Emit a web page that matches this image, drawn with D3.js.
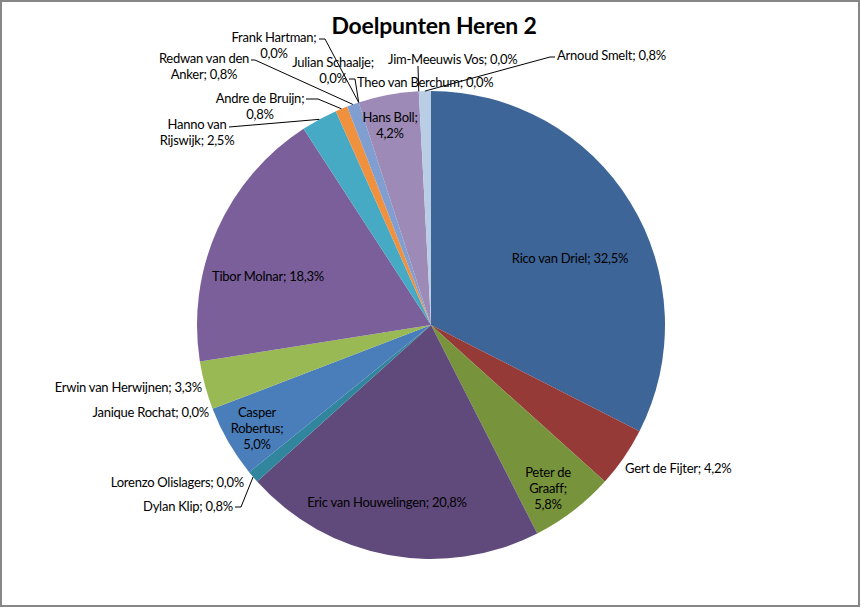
<!DOCTYPE html>
<html>
<head>
<meta charset="utf-8">
<title>Doelpunten Heren 2</title>
<script src="https://cdn.jsdelivr.net/npm/d3@7"></script>
<style>
	body { margin: 0; background: #fff; }
	#chart-container text { font-family: Lato, "Open Sans", sans-serif; fill: #000; }
</style>
</head>
<body>
<div id="chart-container"></div>
<script>
// goals per player, in the order Excel draws them (clockwise from 12 o'clock)
let players = ["Rico van Driel", "Gert de Fijter", "Peter de Graaff", "Eric van Houwelingen",
	"Dylan Klip", "Lorenzo Olislagers", "Casper Robertus", "Janique Rochat",
	"Erwin van Herwijnen", "Tibor Molnar", "Hanno van Rijswijk", "Andre de Bruijn",
	"Redwan van den Anker", "Frank Hartman", "Julian Schaalje", "Hans Boll",
	"Theo van Berchum", "Jim-Meeuwis Vos", "Arnoud Smelt"];
let goals = [39, 5, 7, 25, 1, 0, 6, 0, 4, 22, 3, 1, 1, 0, 0, 5, 0, 0, 1];
let sliceColors = ["#3d6597", "#963a37", "#77933c", "#604a7b", "#31859c", "#e46c0a",
	"#4a7ebb", "#be4b48", "#98b954", "#7a5f9a", "#46aac5", "#f0913f",
	"#809fd0", "#d48a89", "#b3cb85", "#9d8ab6", "#7fc6d9", "#f9b885", "#b9cde5"];

// where Excel put each data label: x/y of first line, anchor, words per line, leader points
let labelLayout = {
	"Rico van Driel":       { x: 570, y: 258, anchor: "middle" },
	"Gert de Fijter":       { x: 625, y: 468, anchor: "start" },
	"Peter de Graaff":      { x: 548, y: 472, anchor: "middle", breaks: [2, 1, 1] },
	"Eric van Houwelingen": { x: 387, y: 502, anchor: "middle" },
	"Dylan Klip":           { x: 233, y: 506, anchor: "end", leader: [[235, 507], [241, 507]] },
	"Lorenzo Olislagers":   { x: 244, y: 482, anchor: "end" },
	"Casper Robertus":      { x: 257, y: 412, anchor: "middle", breaks: [1, 1, 1] },
	"Janique Rochat":       { x: 209, y: 412, anchor: "end" },
	"Erwin van Herwijnen":  { x: 202, y: 387, anchor: "end" },
	"Tibor Molnar":         { x: 268, y: 276, anchor: "middle" },
	"Hanno van Rijswijk":   { x: 197, y: 124, anchor: "middle", breaks: [2, 2], leader: [[229, 127]] },
	"Andre de Bruijn":      { x: 260, y: 98, anchor: "middle", breaks: [3, 1], leader: [[306, 99], [318, 99]] },
	"Redwan van den Anker": { x: 204, y: 58, anchor: "middle", breaks: [3, 2], leader: [[251, 60], [255, 60]] },
	"Frank Hartman":        { x: 274, y: 37, anchor: "middle", breaks: [2, 1], leader: [[319, 39], [325, 39]] },
	"Julian Schaalje":      { x: 333, y: 62, anchor: "middle", breaks: [2, 1], leader: [[349, 79], [355, 79]] },
	"Hans Boll":            { x: 390, y: 117, anchor: "middle", breaks: [2, 1] },
	"Theo van Berchum":     { x: 357, y: 82, anchor: "start" },
	"Jim-Meeuwis Vos":      { x: 388, y: 59, anchor: "start", leader: [[418, 66]] },
	"Arnoud Smelt":         { x: 557, y: 55, anchor: "start", leader: [[555, 57], [550, 57]] }
};

class GoalPie {
	constructor(names, values)
	{
		this.names = names;
		this.values = values;
		this.width = 861;
		this.height = 609;
		this.radius = 234;
		this.cx = 431;
		this.cy = 325;

		this.drawChart();
	}

	drawChart()
	{
		let that = this;

		let svg = d3.select("#chart-container").append("svg")
			.attr("width", this.width)
			.attr("height", this.height);

		// chart area frame
		svg.append("rect")
			.attr("x", 1)
			.attr("y", 1)
			.attr("width", this.width - 3)
			.attr("height", this.height - 4)
			.attr("fill", "#fff")
			.attr("stroke", "#878787")
			.attr("stroke-width", 2);

		svg.append("text")
			.attr("x", 434)
			.attr("y", 34)
			.attr("text-anchor", "middle")
			.style("font-size", "23px")
			.style("font-weight", "bold")
			.style("letter-spacing", "-0.2px")
			.text("Doelpunten Heren 2");

		let total = d3.sum(this.values);
		let fmt = d3.format(".1f");
		let pctText = v => fmt(v / total * 100).replace(".", ",") + "%";

		let color = d3.scaleOrdinal()
			.domain(this.names)
			.range(sliceColors);

		let pie = d3.pie()
			.sort(null)
			.value((d, i) => that.values[i]);

		let arcs = pie(this.names);

		let arc = d3.arc()
			.innerRadius(0)
			.outerRadius(this.radius);

		// point on the rim, where leader lines end
		let rim = d3.arc()
			.innerRadius(this.radius)
			.outerRadius(this.radius);

		let pieG = svg.append("g")
			.attr("transform", "translate(" + this.cx + "," + this.cy + ")");

		pieG.selectAll("path")
			.data(arcs)
			.join("path")
			.attr("d", arc)
			.attr("fill", d => color(d.data));

		// leader lines
		let lineGen = d3.line();
		svg.selectAll(".leader")
			.data(arcs.filter(d => labelLayout[d.data].leader))
			.join("path")
			.classed("leader", true)
			.attr("fill", "none")
			.attr("stroke", "#000")
			.attr("stroke-width", 1)
			.attr("d", d => {
				let p = rim.centroid(d);
				let pts = labelLayout[d.data].leader.concat([[p[0] + that.cx, p[1] + that.cy]]);
				return lineGen(pts);
			});

		// data labels: "name; pct"
		let labels = svg.selectAll(".data-label")
			.data(arcs)
			.join("text")
			.classed("data-label", true)
			.attr("text-anchor", d => labelLayout[d.data].anchor)
			.attr("dominant-baseline", "central")
			.style("font-size", "13px")
			.style("letter-spacing", "-0.25px");

		labels.each(function (d, i) {
			let lay = labelLayout[d.data];
			let words = (d.data + "; " + pctText(that.values[i])).split(" ");
			let breaks = lay.breaks || [words.length];
			let lines = [];
			let k = 0;
			for (let n of breaks) {
				lines.push(words.slice(k, k + n).join(" "));
				k += n;
			}
			d3.select(this).selectAll("tspan")
				.data(lines)
				.join("tspan")
				.attr("x", lay.x)
				.attr("y", (t, j) => lay.y + j * 16)
				.text(t => t);
		});
	}
}

new GoalPie(players, goals);
</script>
</body>
</html>
